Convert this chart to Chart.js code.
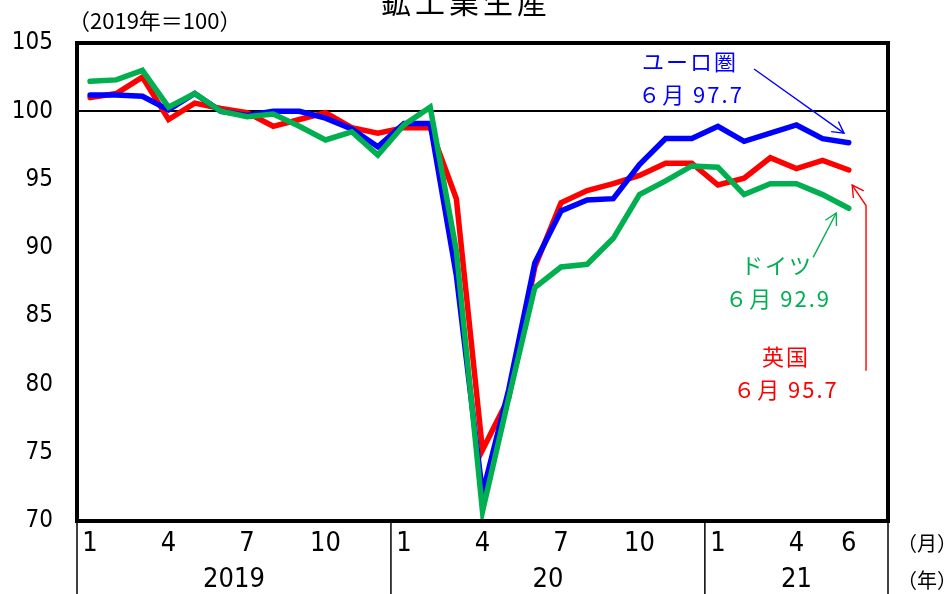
<!DOCTYPE html>
<html>
<head>
<meta charset="utf-8">
<script src="https://cdn.jsdelivr.net/npm/chart.js@4.4.1/dist/chart.umd.min.js"></script>
<style>
  html, body { margin: 0; padding: 0; background: #fff; }
</style>
</head>
<body>
<canvas id="chart" width="951" height="594"></canvas>
<script>
// months Jan 2019 .. Jul 2021 (last slot left empty)
const months = [
  "1","2","3","4","5","6","7","8","9","10","11","12",
  "1","2","3","4","5","6","7","8","9","10","11","12",
  "1","2","3","4","5","6","7"
];
const xTickLabels = [
  "1","","","4","","","7","","","10","","",
  "1","","","4","","","7","","","10","","",
  "1","","","4","","6",""
];
const years = ["2019", "20", "21"];
const yearStarts = [0, 12, 24];

const euroArea = [
  101.2, 101.2, 101.1, 100.1, 101.3, 100.0, 99.7, 100.0, 100.0, 99.5, 98.7, 97.4,
  99.1, 99.1, 88.0, 72.0, 79.6, 88.9, 92.7, 93.5, 93.6, 96.1, 98.0, 98.0,
  98.9, 97.8, 98.4, 99.0, 98.0, 97.7
];
const uk = [
  101.0, 101.3, 102.5, 99.4, 100.6, 100.2, 99.9, 98.9, 99.4, 99.9, 98.8, 98.4,
  98.8, 98.8, 93.6, 75.2, 79.0, 88.6, 93.3, 94.2, 94.7, 95.3, 96.2, 96.2,
  94.6, 95.1, 96.6, 95.8, 96.4, 95.7
];
const germany = [
  102.2, 102.3, 103.0, 100.3, 101.3, 100.0, 99.6, 99.8, 98.9, 97.9, 98.5, 96.8,
  99.0, 100.3, 89.8, 70.7, 79.0, 87.1, 88.6, 88.8, 90.7, 93.9, 94.9, 96.0,
  95.9, 93.9, 94.7, 94.7, 93.9, 92.9
];

const BLUE = "#0000FF";
const RED = "#FF0000";
const GREEN = "#00B050";
const numFont = "'Liberation Sans Narrow', 'Arial Narrow', 'DejaVu Sans Condensed', sans-serif";
const jpFont = "'Noto Sans CJK JP', sans-serif";

// annotation positions in data units (x = month index, y = index value)
const notes = [
  { text: "ユーロ圏", x: 22.93, y: 103.6, color: BLUE },
  { text: "６月 " + euroArea[29].toFixed(1), x: 22.97, y: 101.2, color: BLUE },
  { text: "ドイツ", x: 26.26, y: 88.7, color: GREEN },
  { text: "６月 " + germany[29].toFixed(1), x: 26.3, y: 86.3, color: GREEN },
  { text: "英国", x: 26.6, y: 82.0, color: RED },
  { text: "６月 " + uk[29].toFixed(1), x: 26.6, y: 79.6, color: RED }
];
const arrows = [
  { color: BLUE, pts: [[25.38, 103.1], [28.82, 98.4]] },
  { color: GREEN, pts: [[27.64, 89.3], [28.52, 92.55]] },
  { color: RED, pts: [[29.66, 81.0], [29.66, 93.1], [29.13, 94.6]] }
];

const decorations = {
  id: "decorations",
  afterDraw(chart) {
    const ctx = chart.ctx;
    const a = chart.chartArea;
    const xs = chart.scales.x;
    const ys = chart.scales.y;
    const H = chart.height;
    ctx.save();

    // plot frame
    ctx.strokeStyle = "#000";
    ctx.lineWidth = 4;
    ctx.strokeRect(a.left, a.top, a.right - a.left, a.bottom - a.top);

    // year separators below the axis
    const bounds = [a.left];
    for (let i = 1; i < yearStarts.length; i++) {
      const s = yearStarts[i];
      bounds.push((xs.getPixelForValue(s - 1) + xs.getPixelForValue(s)) / 2);
    }
    bounds.push(a.right);
    ctx.lineWidth = 1.5;
    bounds.forEach((bx) => {
      ctx.beginPath();
      ctx.moveTo(bx, a.bottom);
      ctx.lineTo(bx, H);
      ctx.stroke();
    });

    // year labels
    ctx.fillStyle = "#000";
    ctx.textAlign = "center";
    ctx.textBaseline = "middle";
    ctx.font = "27px " + numFont;
    years.forEach((y, i) => {
      ctx.fillText(y, (bounds[i] + bounds[i + 1]) / 2, 580);
    });

    // unit labels
    ctx.font = "20px " + jpFont;
    ctx.textAlign = "left";
    ctx.fillText("（月）", 897, 543);
    ctx.fillText("（年）", 897, 580);
    ctx.font = "22px " + jpFont;
    ctx.fillText("（2019年＝100）", 68, 21);

    // title
    ctx.font = "30px " + jpFont;
    ctx.letterSpacing = "4px";
    ctx.textAlign = "center";
    ctx.textBaseline = "alphabetic";
    ctx.fillText("鉱工業生産", 466, 13);

    // annotations
    ctx.font = "22px " + jpFont;
    ctx.letterSpacing = "2px";
    ctx.textBaseline = "middle";
    notes.forEach((n) => {
      ctx.fillStyle = n.color;
      ctx.fillText(n.text, xs.getPixelForValue(n.x), ys.getPixelForValue(n.y));
    });
    ctx.letterSpacing = "0px";

    arrows.forEach((ar) => {
      const p = ar.pts.map(([x, y]) => [xs.getPixelForValue(x), ys.getPixelForValue(y)]);
      ctx.strokeStyle = ar.color;
      ctx.lineWidth = 1.4;
      ctx.beginPath();
      ctx.moveTo(p[0][0], p[0][1]);
      for (let i = 1; i < p.length; i++) ctx.lineTo(p[i][0], p[i][1]);
      ctx.stroke();
      const [tx, ty] = p[p.length - 1];
      const [fx, fy] = p[p.length - 2];
      const ang = Math.atan2(ty - fy, tx - fx);
      const len = 13;
      ctx.beginPath();
      ctx.moveTo(tx - len * Math.cos(ang - 0.5), ty - len * Math.sin(ang - 0.5));
      ctx.lineTo(tx, ty);
      ctx.lineTo(tx - len * Math.cos(ang + 0.5), ty - len * Math.sin(ang + 0.5));
      ctx.stroke();
    });

    ctx.restore();
  }
};

const ctx = document.getElementById("chart").getContext("2d");
new Chart(ctx, {
  type: "line",
  data: {
    labels: months,
    datasets: [
      { label: "ドイツ", data: germany, borderColor: GREEN },
      { label: "ユーロ圏", data: euroArea, borderColor: BLUE },
      { label: "英国", data: uk, borderColor: RED }
    ].map((d) => Object.assign(d, {
      borderWidth: 5.5,
      pointRadius: 0,
      tension: 0,
      fill: false,
      borderJoinStyle: "miter",
      borderCapStyle: "round"
    }))
  },
  options: {
    responsive: false,
    animation: false,
    devicePixelRatio: 1,
    layout: { padding: { top: 43, right: 63, left: 0, bottom: 0 } },
    plugins: {
      legend: { display: false },
      tooltip: { enabled: false }
    },
    scales: {
      x: {
        type: "category",
        offset: true,
        grid: { display: false, drawTicks: false },
        border: { display: false },
        ticks: {
          autoSkip: false,
          maxRotation: 0,
          minRotation: 0,
          padding: 7,
          color: "#000",
          font: { family: numFont, size: 27 },
          callback: (v, i) => xTickLabels[i]
        },
        afterFit: (s) => { s.height = 73; }
      },
      y: {
        min: 70,
        max: 105,
        grid: {
          drawTicks: false,
          color: (c) => (c.tick && c.tick.value === 100 ? "#000" : "rgba(0,0,0,0)"),
          lineWidth: 2
        },
        border: { display: false },
        ticks: {
          stepSize: 5,
          padding: 24,
          color: "#000",
          font: { family: numFont, size: 24 }
        },
        afterFit: (s) => { s.width = 77; }
      }
    }
  },
  plugins: [decorations]
});
</script>
</body>
</html>
